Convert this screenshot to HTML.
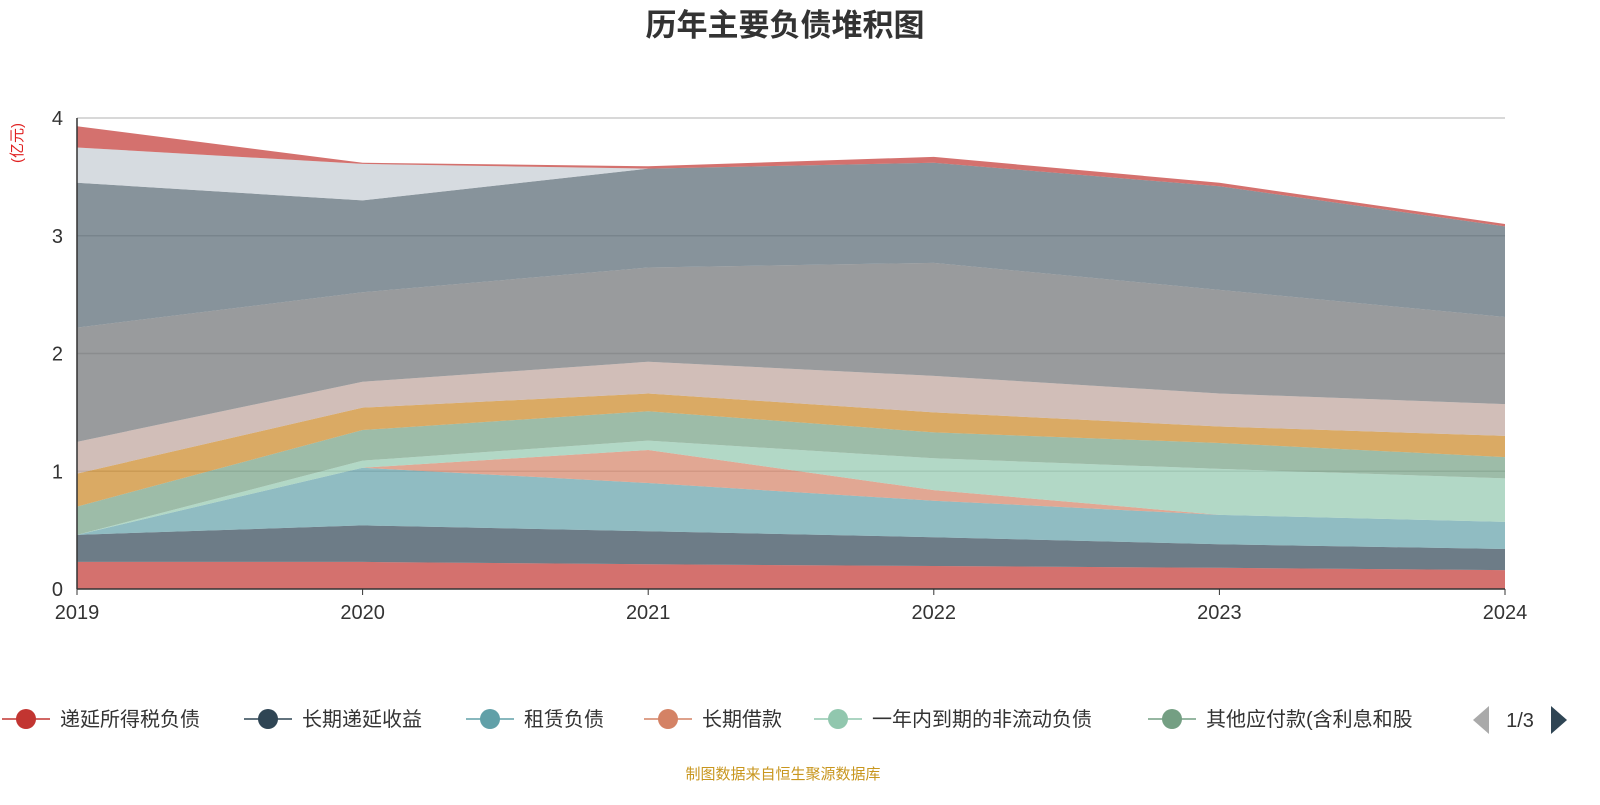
<!DOCTYPE html>
<html><head><meta charset="utf-8"><style>
body{margin:0;background:#fff;width:1600px;height:800px;overflow:hidden;font-family:"Liberation Sans","Noto Sans CJK SC",sans-serif}
</style></head><body>
<svg id="chart" width="1600" height="800" xmlns="http://www.w3.org/2000/svg" font-family="Liberation Sans, Noto Sans CJK SC, sans-serif">
<text x="785" y="36" text-anchor="middle" font-size="31" font-weight="bold" fill="#333">历年主要负债堆积图</text>
<text transform="translate(22,143) rotate(-90)" text-anchor="middle" font-size="15" fill="#e02020">(亿元)</text>
<g id="grid"></g><g id="areas"></g><g id="axes"></g><g id="legend"></g>
<text x="783" y="779" text-anchor="middle" font-size="15" fill="#c8961e">制图数据来自恒生聚源数据库</text>
</svg>
<script>
const years=['2019','2020','2021','2022','2023','2024'];
const yTicks=[0,1,2,3,4];
const seriesNames=['递延所得税负债','长期递延收益','租赁负债','长期借款','一年内到期的非流动负债','其他应付款(含利息和股','应付职工薪酬','应交税费','应付账款','合同负债','其他流动负债','其他非流动负债'];
const colors=['#c23531','#2f4554','#61a0a8','#d48265','#91c7ae','#749f83','#ca8622','#bda29a','#6e7074','#546570','#c4ccd3','#c23531'];
const s0=[0.23,0.23,0.21,0.195,0.18,0.16];
const s1=[0.23,0.31,0.28,0.245,0.20,0.18];
const s2=[0,0.49,0.41,0.31,0.25,0.23];
const s3=[0,0,0.28,0.09,0,0];
const s4=[0,0.06,0.08,0.27,0.39,0.37];
const s5=[0.24,0.26,0.25,0.22,0.22,0.18];
const s6=[0.28,0.19,0.15,0.17,0.14,0.18];
const s7=[0.27,0.22,0.27,0.31,0.28,0.27];
const s8=[0.97,0.76,0.80,0.96,0.88,0.74];
const s9=[1.23,0.78,0.84,0.85,0.88,0.77];
const s10=[0.30,0.31,0,0,0,0];
const s11=[0.18,0.01,0.02,0.05,0.03,0.02];
const series=[s0,s1,s2,s3,s4,s5,s6,s7,s8,s9,s10,s11];
const NS='http://www.w3.org/2000/svg';
const x0=77,x1=1505,yb=589,yt=118,ymax=4;
const xs=i=>x0+(x1-x0)*i/(years.length-1);
const ys=v=>yb-(yb-yt)*v/ymax;
function mk(t,a,p){const e=document.createElementNS(NS,t);for(const k in a)e.setAttribute(k,a[k]);p.appendChild(e);return e;}
const grid=document.getElementById('grid'),areas=document.getElementById('areas'),axes=document.getElementById('axes'),leg=document.getElementById('legend');
yTicks.forEach(t=>{
 if(t>0){const l=mk('line',{x1:x0,x2:x1,y1:ys(t),y2:ys(t),stroke:'#ccc','stroke-width':1.5},grid);
 
 }
 const tx=mk('text',{x:x0-14,y:ys(t)+7,'text-anchor':'end','font-size':20,fill:'#333'},axes);tx.textContent=t;
 
 
});
let cum=years.map(()=>0);
series.forEach((s,k)=>{
 const low=cum.slice();const high=cum.map((c,i)=>c+s[i]);cum=high;
 let d='M'+high.map((v,i)=>xs(i)+','+ys(v)).join('L');
 for(let i=years.length-1;i>=0;i--)d+='L'+xs(i)+','+ys(low[i]);
 d+='Z';
 const p=mk('path',{d:d,fill:colors[k],'fill-opacity':0.7,stroke:'none'},areas);
 
 
});
const ax=mk('line',{x1:x0,x2:x0,y1:yt,y2:yb,stroke:'#333','stroke-width':1.5},axes);


const bx=mk('line',{x1:x0,x2:x1,y1:yb,y2:yb,stroke:'#333','stroke-width':1.5},axes);


years.forEach((y,i)=>{
 mk('line',{x1:xs(i),x2:xs(i),y1:yb,y2:yb+6,stroke:'#333'},axes);
 const t=mk('text',{x:xs(i),y:yb+30,'text-anchor':'middle','font-size':20,fill:'#333'},axes);t.textContent=y;
 
 
});
const lx=[2,244,466,644,814,1148];
lx.forEach((x,k)=>{
 const g=mk('g',{},leg);
 
 
 mk('line',{x1:x,x2:x+48,y1:719,y2:719,stroke:colors[k],'stroke-width':1.5},g);
 mk('circle',{cx:x+24,cy:719,r:10,fill:colors[k]},g);
 const t=mk('text',{x:x+58,y:726,'font-size':20,fill:'#333'},g);t.textContent=seriesNames[k];
});
const pg=mk('g',{},leg);


mk('path',{d:'M1489,706 L1489,734 L1473,720 Z',fill:'#aaa'},pg);
const pt=mk('text',{x:1520,y:727,'text-anchor':'middle','font-size':20,fill:'#333'},pg);pt.textContent='1/3';
mk('path',{d:'M1551,706 L1551,734 L1567,720 Z',fill:'#2f4554'},pg);
</script>
</body></html>
